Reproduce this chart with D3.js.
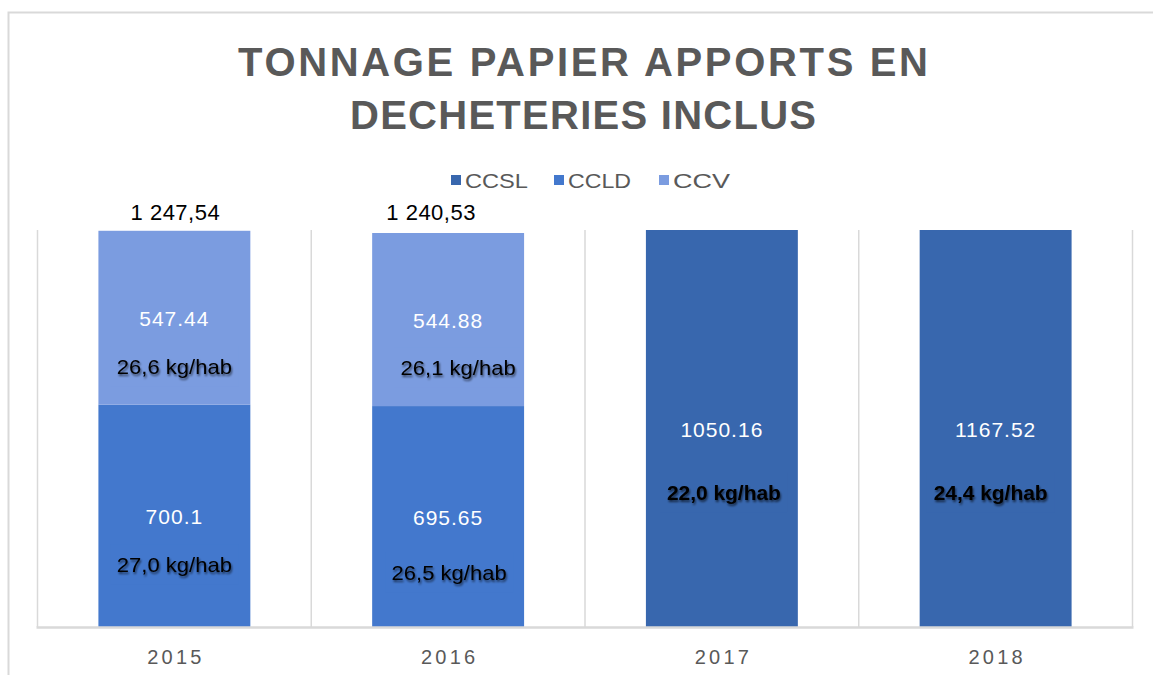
<!DOCTYPE html>
<html>
<head>
<meta charset="utf-8">
<script src="https://cdn.jsdelivr.net/npm/d3@7"></script>
<style>
  html, body { margin: 0; padding: 0; background: #ffffff; }
  svg { display: block; }
</style>
</head>
<body>
<svg id="chart" width="1153" height="675"></svg>
<script>
// ---------- data ----------
const years = ["2015", "2016", "2017", "2018"];
const seriesNames = ["CCSL", "CCLD", "CCV"];
const seriesColors = ["#3867AE", "#4378CD", "#7B9CE0"];

// tonnages shown as labels
const ccsl = [0, 0, 1050.16, 1167.52];
const ccld = [700.1, 695.65, 0, 0];
const ccv  = [547.44, 544.88, 0, 0];
// CCSL bars as drawn in the picture (they reach the top of the plot area)
const ccslDrawn = [0, 0, 1250, 1250];

const totalLabels = ["1 247,54", "1 240,53", "", ""];
const kgCCV  = ["26,6 kg/hab", "26,1 kg/hab", "", ""];
const kgCCLD = ["27,0 kg/hab", "26,5 kg/hab", "", ""];
const kgCCSL = ["", "", "22,0 kg/hab", "24,4 kg/hab"];
const axisMax = 1250;

// ---------- layout ----------
const svg = d3.select("#chart");
const plot = { left: 37.5, right: 1132.5, top: 230, bottom: 627 };
const grey = "#595959";
const lineGrey = "#d9d9d9";

const x = d3.scaleBand().domain(years).range([plot.left, plot.right])
  .paddingInner(0.445).paddingOuter(0.2225);
const y = d3.scaleLinear().domain([0, axisMax]).range([plot.bottom, plot.top]);

// shadow filter for the kg/hab text boxes
const defs = svg.append("defs");
const f = defs.append("filter").attr("id", "shadow").attr("x", "-20%").attr("y", "-40%").attr("width", "140%").attr("height", "180%");
f.append("feGaussianBlur").attr("in", "SourceAlpha").attr("stdDeviation", 1.2).attr("result", "b");
f.append("feOffset").attr("in", "b").attr("dx", 1).attr("dy", 1.5).attr("result", "o");
f.append("feComponentTransfer").attr("in", "o").attr("result", "oa")
  .append("feFuncA").attr("type", "linear").attr("slope", 0.6);
const m = f.append("feMerge");
m.append("feMergeNode").attr("in", "oa");
m.append("feMergeNode").attr("in", "SourceGraphic");

// chart border (left & top visible)
svg.append("path")
  .attr("d", `M8.5,675 L8.5,12.5 L1153,12.5`)
  .attr("fill", "none").attr("stroke", lineGrey).attr("stroke-width", 2);

// title
const titleLines = ["TONNAGE PAPIER APPORTS EN", "DECHETERIES INCLUS"];
const titleWidths = [690, 466];
svg.append("g").selectAll("text").data(titleLines).join("text")
  .attr("x", 583).attr("y", (d, i) => 76 + i * 53)
  .attr("text-anchor", "middle")
  .attr("textLength", (d, i) => titleWidths[i])
  .attr("lengthAdjust", "spacing")
  .style("font-family", "'Liberation Sans', Arial, sans-serif")
  .style("font-weight", "bold").style("font-size", "40px").attr("fill", grey)
  .text(d => d);

// legend
const legendX = [451, 554, 659];
const lg = svg.append("g").selectAll("g").data(seriesNames).join("g")
  .attr("transform", (d, i) => `translate(${legendX[i]},180)`);
lg.append("rect").attr("x", 0).attr("y", -5).attr("width", 10).attr("height", 10)
  .attr("fill", (d, i) => seriesColors[i]);
lg.append("text").attr("x", 14).attr("y", 7.5)
  .style("font-family", "'Liberation Sans', Arial, sans-serif")
  .style("font-size", "21px").attr("fill", grey)
  .attr("textLength", (d) => d === "CCV" ? 57 : 63).attr("lengthAdjust", "spacingAndGlyphs")
  .text(d => d);

// gridlines at category boundaries
const bounds = years.map((d, i) => plot.left + i * x.step()).concat([plot.right]);
svg.append("g").selectAll("line").data(bounds).join("line")
  .attr("x1", d => d).attr("x2", d => d)
  .attr("y1", plot.top).attr("y2", plot.bottom)
  .attr("stroke", lineGrey).attr("stroke-width", 1.5);

// stacked bars
const rows = years.map((yr, i) => ({ year: yr, CCSL: ccslDrawn[i], CCLD: ccld[i], CCV: ccv[i] }));
const stack = d3.stack().keys(seriesNames)(rows);
svg.append("g").selectAll("g").data(stack).join("g")
  .attr("fill", (d, i) => seriesColors[i])
  .selectAll("rect").data(d => d).join("rect")
  .attr("x", d => x(d.data.year))
  .attr("width", x.bandwidth())
  .attr("y", d => y(d[1]))
  .attr("height", d => y(d[0]) - y(d[1]));

// x axis line
svg.append("line").attr("x1", plot.left - 1).attr("x2", plot.right + 1)
  .attr("y1", plot.bottom + 0.5).attr("y2", plot.bottom + 0.5)
  .attr("stroke", lineGrey).attr("stroke-width", 2.5);

// x axis labels
const xAxis = d3.axisBottom(x).tickSize(0).tickPadding(0);
const ax = svg.append("g").attr("transform", `translate(0,${plot.bottom})`).call(xAxis);
ax.select(".domain").remove();
ax.selectAll("text")
  .attr("y", 37)
  .attr("dy", 0)
  .attr("dx", 1.5)
  .style("font-family", "'Liberation Sans', Arial, sans-serif")
  .style("font-size", "20px").style("letter-spacing", "3.2px")
  .attr("fill", grey);

// white value labels (segment centres)
const valueLabels = [];
years.forEach((yr, i) => {
  if (ccld[i]) valueLabels.push({ yr, text: String(ccld[i]), y0: 0, y1: ccld[i] });
  if (ccv[i]) valueLabels.push({ yr, text: String(ccv[i]), y0: ccld[i], y1: ccld[i] + ccv[i] });
  if (ccsl[i]) valueLabels.push({ yr, text: String(ccsl[i]), y0: 0, y1: ccslDrawn[i] });
});
svg.append("g").selectAll("text").data(valueLabels).join("text")
  .attr("x", d => x(d.yr) + x.bandwidth() / 2)
  .attr("y", d => (y(d.y0) + y(d.y1)) / 2 + 8)
  .attr("text-anchor", "middle")
  .style("font-family", "'Liberation Sans', Arial, sans-serif")
  .style("font-size", "21px").style("letter-spacing", "1px").attr("fill", "#ffffff")
  .text(d => d.text);

// totals above the bars
const totalDx = [1, -17, 0, 0];
svg.append("g").selectAll("text").data(years.map((yr, i) => ({ yr, i, t: totalLabels[i] })).filter(d => d.t)).join("text")
  .attr("x", d => x(d.yr) + x.bandwidth() / 2 + totalDx[d.i])
  .attr("y", 220)
  .attr("text-anchor", "middle")
  .style("font-family", "'Liberation Sans', Arial, sans-serif")
  .style("font-size", "22px").style("letter-spacing", "0.5px").attr("fill", "#000000")
  .text(d => d.t);

// kg/hab text boxes
const kgItems = [];
years.forEach((yr, i) => {
  if (kgCCV[i]) kgItems.push({ yr, i, t: kgCCV[i], val: ccld[i] + ccv[i] * 0.22, color: seriesColors[2], bold: false });
  if (kgCCLD[i]) kgItems.push({ yr, i, t: kgCCLD[i], val: ccld[i] * 0.28, color: seriesColors[1], bold: false });
  if (kgCCSL[i]) kgItems.push({ yr, i, t: kgCCSL[i], val: ccslDrawn[i] * 0.34, color: seriesColors[0], bold: true });
});
const kgDx = { "26,6 kg/hab": 0, "26,1 kg/hab": 10, "27,0 kg/hab": 0, "26,5 kg/hab": 1, "22,0 kg/hab": 2, "24,4 kg/hab": -5 };
const kgDy = { "26,6 kg/hab": 0, "26,1 kg/hab": 0, "27,0 kg/hab": 0, "26,5 kg/hab": 7, "22,0 kg/hab": 0, "24,4 kg/hab": 0 };
const kgG = svg.append("g").selectAll("g").data(kgItems).join("g")
  .attr("transform", d => `translate(${x(d.yr) + x.bandwidth() / 2 + kgDx[d.t]},${y(d.val) + kgDy[d.t]})`);
kgG.append("rect")
  .attr("x", -64).attr("width", 128).attr("y", -20).attr("height", 40)
  .attr("fill", d => d.color);
kgG.append("text")
  .attr("text-anchor", "middle").attr("y", 7.5)
  .attr("filter", "url(#shadow)")
  .attr("textLength", d => d.bold ? 114 : 115)
  .attr("lengthAdjust", "spacingAndGlyphs")
  .style("font-family", "'Liberation Sans', Arial, sans-serif")
  .style("font-size", "21px")
  .style("font-weight", d => d.bold ? "bold" : "normal")
  .attr("fill", "#000000")
  .text(d => d.t);
</script>
</body>
</html>
